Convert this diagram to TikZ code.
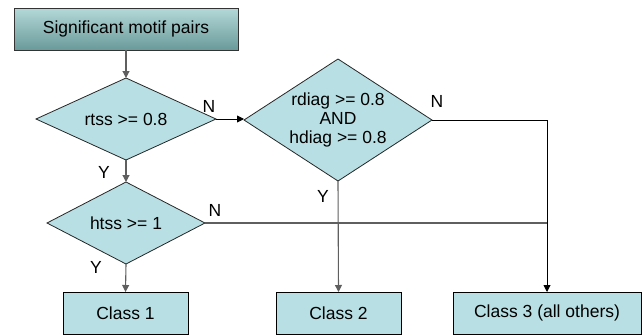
\documentclass[tikz,border=0pt]{standalone}
\usepackage{fontspec}
\setmainfont{Liberation Sans}
\usetikzlibrary{shapes.geometric,arrows.meta}
\definecolor{boxfill}{RGB}{184,223,227}
\definecolor{shadetop}{RGB}{180,216,216}
\definecolor{shadebot}{RGB}{106,154,154}
\definecolor{flowgray}{RGB}{95,95,95}
\begin{document}
\begin{tikzpicture}[x=1pt,y=-1pt,
  every node/.style={font=\fontsize{17.5}{19}\selectfont},
  classbox/.style={draw=black,line width=0.9pt,fill=boxfill,rectangle,
    minimum height=42pt,inner sep=0pt,outer sep=0pt},
  startbox/.style={draw=black!80,line width=0.9pt,rectangle,top color=shadetop,
    bottom color=shadebot,minimum width=224pt,minimum height=42pt,
    inner sep=0pt,outer sep=0pt},
  test/.style={draw=black!85,line width=0.8pt,fill=boxfill,shape=diamond,
    aspect=1.54,inner sep=0pt,outer sep=0pt,align=center},
  flow/.style={line width=0.9pt,-{Triangle[length=7pt,width=7pt]}},
  flowgrey/.style={flow,line width=1.1pt,draw=flowgray},
  joinline/.style={line width=1.1pt},
  tag/.style={inner sep=0pt}]
\useasboundingbox (0,0) rectangle (642,335);

% boxes and decisions
\node[startbox] (start) at (126,29) {Significant motif pairs};
\node[test,minimum width=180pt,minimum height=82pt] (rtss) at (126,119) {rtss >= 0.8};
\node[test,minimum width=188pt,minimum height=122pt] (diag) at (338,120)
  {rdiag >= 0.8\\AND\\hdiag >= 0.8};
\node[test,minimum width=158pt,minimum height=82pt] (htss) at (126,223) {htss >= 1};
\node[classbox,minimum width=125pt] (c1) at (125.5,313) {Class 1};
\node[classbox,minimum width=125pt] (c2) at (338.5,313) {Class 2};
\node[classbox,minimum width=188pt] (c3) at (547,313) {Class 3 (all others)};

% connectors
\draw[flowgrey] (start.south) -- (rtss.north);
\draw[flowgrey] (rtss.south) -- (htss.north);
\draw[flowgrey] (htss.south) -- (c1.north);
\draw[flow] (rtss.east) -- (rtss.east -| diag.west);
\draw[flowgrey] (diag.south) -- (c2.north);
\draw[flow] (diag.east) -| (c3.north);
\coordinate (merge) at (htss.east -| c3.north);
\draw[joinline,draw=flowgray] (htss.east) -- (merge);

% branch labels
\node[tag] (rtssN) at (209,106) {N};
\node[tag] (rtssY) at (104,172) {Y};
\node[tag] (diagN) at (437,101) {N};
\node[tag] (diagY) at (323,196) {Y};
\node[tag] (htssN) at (215,210) {N};
\node[tag] (htssY) at (96,267) {Y};
\end{tikzpicture}
\end{document}
